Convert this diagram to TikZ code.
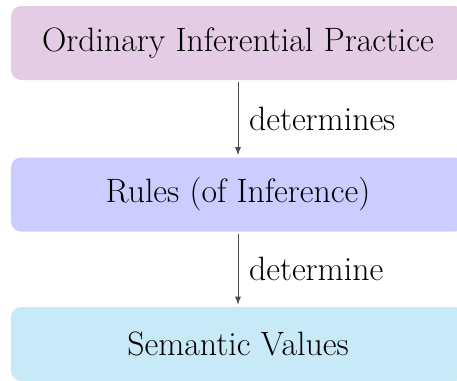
\documentclass[tikz,border=0pt]{standalone}
\usepackage{tikz}
\usetikzlibrary{positioning}

\definecolor{valuecol}{RGB}{199,233,248}

\begin{document}
\begin{tikzpicture}[
    x=0.5pt, y=-0.5pt,
    every node/.style={font=\fontsize{16.9}{20}\selectfont},
    layer/.style={rounded corners=5pt, minimum width=227pt, minimum height=37pt, inner sep=0pt}
]

% Canvas
\clip (0,0) rectangle (457,381);

% Layers
\node[layer, fill=violet!20] (practice) at (238,43) {Ordinary Inferential Practice};
\node[layer, fill=blue!20] (rules) at (238,194.5) {Rules (of Inference)};
\node[layer, fill=valuecol] (values) at (238,344) {Semantic Values};

% Links
\draw[->, >=latex, black!70, shorten <=1pt, shorten >=1pt] (practice) -- (rules) node[midway,right,black,xshift=2pt] {determines};
\draw[->, >=latex, black!70, shorten <=1pt, shorten >=1pt] (rules) -- (values) node[midway,right,black,xshift=2pt] {determine};

\end{tikzpicture}
\end{document}
